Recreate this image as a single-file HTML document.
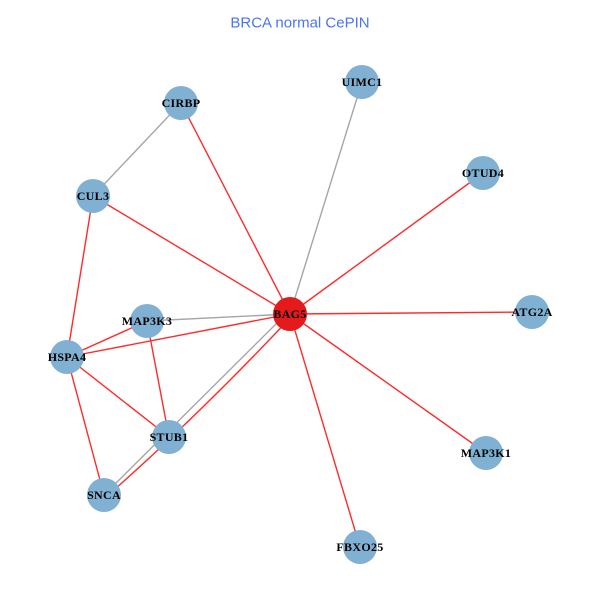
<!DOCTYPE html>
<html><head><meta charset="utf-8"><style>
html,body{margin:0;padding:0;background:#fff;}
svg{display:block;}
.l{font-family:"Liberation Serif",serif;font-weight:bold;font-size:12px;letter-spacing:0.3px;fill:#000;text-anchor:middle;}
</style></head><body>
<svg width="600" height="600" viewBox="0 0 600 600" xmlns="http://www.w3.org/2000/svg">
<rect width="600" height="600" fill="#fff"/>
<text x="300" y="27.5" text-anchor="middle" font-family="Liberation Sans, sans-serif" font-size="15" fill="#4b74f0">BRCA normal CePIN</text>
<g stroke-width="1.4" fill="none">
<line x1="181" y1="103" x2="93" y2="196" stroke="#a6a6a6"/>
<line x1="362" y1="82" x2="290" y2="314" stroke="#a6a6a6"/>
<line x1="147" y1="321" x2="290" y2="314" stroke="#a6a6a6"/>
<line x1="104" y1="495" x2="288" y2="312" stroke="#a6a6a6"/>
<line x1="181" y1="103" x2="290" y2="314" stroke="#ff2b2b"/>
<line x1="483" y1="173" x2="290" y2="314" stroke="#ff2b2b"/>
<line x1="532" y1="312" x2="290" y2="314" stroke="#ff2b2b"/>
<line x1="486" y1="453" x2="290" y2="314" stroke="#ff2b2b"/>
<line x1="360" y1="547" x2="290" y2="314" stroke="#ff2b2b"/>
<line x1="93" y1="196" x2="290" y2="314" stroke="#ff2b2b"/>
<line x1="93" y1="196" x2="67" y2="357" stroke="#ff2b2b"/>
<line x1="67" y1="357" x2="147" y2="321" stroke="#ff2b2b"/>
<line x1="67" y1="357" x2="290" y2="314" stroke="#ff2b2b"/>
<line x1="67" y1="357" x2="169" y2="437" stroke="#ff2b2b"/>
<line x1="67" y1="357" x2="104" y2="495" stroke="#ff2b2b"/>
<line x1="147" y1="321" x2="169" y2="437" stroke="#ff2b2b"/>
<path d="M106 497 Q196 418 292 316" stroke="#ff2b2b"/>
</g>
<g fill="#80b1d3">
<circle cx="181" cy="103" r="17"/>
<circle cx="362" cy="82" r="17"/>
<circle cx="93" cy="196" r="17"/>
<circle cx="483" cy="173" r="17"/>
<circle cx="532" cy="312" r="17"/>
<circle cx="147" cy="321" r="17"/>
<circle cx="67" cy="357" r="17"/>
<circle cx="169" cy="437" r="17"/>
<circle cx="486" cy="453" r="17"/>
<circle cx="104" cy="495" r="17"/>
<circle cx="360" cy="547" r="17"/>
</g>
<circle cx="290" cy="314" r="17" fill="#e41a1c"/>
<text class="l" x="181" y="107">CIRBP</text>
<text class="l" x="362" y="86">UIMC1</text>
<text class="l" x="93" y="200">CUL3</text>
<text class="l" x="483" y="177">OTUD4</text>
<text class="l" x="532" y="316">ATG2A</text>
<text class="l" x="147" y="325">MAP3K3</text>
<text class="l" x="67" y="361">HSPA4</text>
<text class="l" x="169" y="441">STUB1</text>
<text class="l" x="486" y="457">MAP3K1</text>
<text class="l" x="104" y="499">SNCA</text>
<text class="l" x="360" y="551">FBXO25</text>
<text class="l" x="290" y="318">BAG5</text>
</svg>
</body></html>
